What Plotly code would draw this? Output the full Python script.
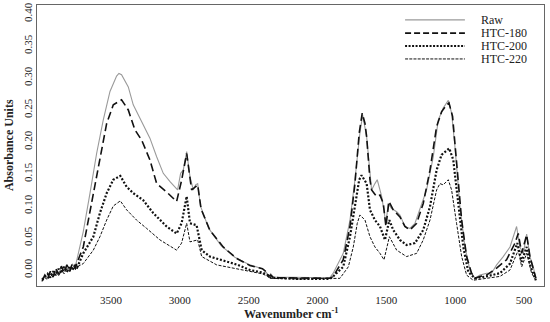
import plotly.graph_objects as go

# (wavenumber cm-1, absorbance)
raw = [(4000,-0.016),(3980,-0.010),(3960,-0.013),(3940,-0.004),(3920,-0.009),(3900,0.001),(3880,-0.006),
       (3860,0.004),(3840,-0.002),(3820,0.007),(3800,0.000),(3780,0.009),(3760,0.004),(3745,0.018),
       (3701,0.060),(3652,0.120),(3604,0.182),(3556,0.234),(3507,0.279),(3459,0.303),(3442,0.307),
       (3423,0.305),(3374,0.286),(3338,0.258),(3301,0.242),(3265,0.227),(3217,0.206),(3168,0.177),
       (3120,0.151),(3071,0.138),(3035,0.130),(3016,0.125),(2994,0.151),(2975,0.156),(2950,0.185),
       (2926,0.146),(2902,0.125),(2885,0.133),(2870,0.135),(2850,0.100),(2790,0.065),(2700,0.038),
       (2600,0.020),(2491,0.008),(2400,0.002),(2370,-0.004),(2355,-0.012),(2340,-0.006),(2320,-0.011),
       (2200,-0.011),(2127,-0.012),(1910,-0.012),(1886,-0.005),(1813,0.026),(1764,0.078),(1728,0.141),
       (1692,0.214),(1672,0.242),(1643,0.208),(1619,0.146),(1607,0.125),(1583,0.135),(1566,0.141),
       (1534,0.115),(1503,0.073),(1486,0.104),(1462,0.096),(1425,0.091),(1401,0.086),(1365,0.068),
       (1329,0.065),(1292,0.073),(1256,0.094),(1208,0.125),(1159,0.177),(1123,0.234),(1087,0.253),
       (1050,0.265),(1026,0.245),(1002,0.193),(965,0.099),(929,0.036),(893,0.000),(857,-0.013),
       (820,-0.008),(772,-0.005),(736,-0.005),(699,0.008),(651,0.021),(602,0.036),(554,0.068),
       (530,0.036),(505,0.026),(481,0.056),(457,0.021),(433,0.005),(414,-0.013)]

htc180 = [(4000,-0.017),(3980,-0.008),(3960,-0.014),(3940,-0.002),(3920,-0.011),(3900,0.003),(3880,-0.007),
          (3860,0.006),(3840,-0.004),(3820,0.008),(3800,-0.002),(3780,0.010),(3760,0.002),(3745,0.012),
          (3701,0.036),(3628,0.120),(3580,0.177),(3531,0.229),(3483,0.258),(3423,0.266),(3374,0.250),
          (3326,0.219),(3277,0.203),(3217,0.172),(3168,0.135),(3096,0.122),(3023,0.107),(2987,0.140),
          (2950,0.182),(2914,0.125),(2870,0.133),(2845,0.095),(2781,0.062),(2685,0.036),(2587,0.018),
          (2491,0.007),(2400,0.002),(2370,-0.003),(2355,-0.010),(2340,-0.008),(2320,-0.012),(2127,-0.013),
          (1910,-0.013),(1886,-0.010),(1813,0.016),(1764,0.068),(1728,0.135),(1697,0.214),(1675,0.245),
          (1655,0.229),(1643,0.208),(1619,0.141),(1607,0.125),(1571,0.115),(1546,0.117),(1522,0.104),
          (1503,0.068),(1481,0.107),(1450,0.094),(1401,0.083),(1365,0.068),(1329,0.0625),(1280,0.073),
          (1232,0.104),(1183,0.156),(1135,0.224),(1099,0.247),(1062,0.258),(1045,0.261),(1019,0.240),
          (990,0.167),(953,0.078),(917,0.021),(881,-0.005),(857,-0.013),(820,-0.010),(772,-0.008),
          (699,0.003),(627,0.016),(566,0.042),(542,0.057),(517,0.026),(481,0.055),(457,0.021),(414,-0.013)]

htc200 = [(4000,-0.015),(3980,-0.011),(3960,-0.006),(3940,-0.012),(3920,-0.002),(3900,-0.008),(3880,0.002),
          (3860,-0.005),(3840,0.005),(3820,-0.003),(3800,0.006),(3780,0.000),(3760,0.007),(3745,0.004),
          (3701,0.026),(3628,0.052),(3580,0.089),(3531,0.120),(3483,0.141),(3432,0.147),(3386,0.130),
          (3338,0.120),(3265,0.109),(3193,0.089),(3096,0.068),(3023,0.057),(2987,0.073),(2950,0.115),
          (2926,0.073),(2878,0.070),(2841,0.031),(2781,0.021),(2579,0.008),(2491,0.000),(2400,-0.004),
          (2360,-0.008),(2340,-0.012),(2127,-0.014),(1910,-0.014),(1886,-0.010),(1813,0.005),(1764,0.052),
          (1728,0.099),(1697,0.141),(1680,0.148),(1643,0.135),(1619,0.094),(1583,0.078),(1546,0.068),
          (1510,0.047),(1478,0.078),(1450,0.0625),(1401,0.047),(1353,0.039),(1292,0.042),(1232,0.0625),
          (1183,0.099),(1135,0.156),(1099,0.180),(1062,0.1875),(1043,0.190),(1014,0.172),(977,0.099),
          (941,0.036),(905,-0.003),(857,-0.013),(772,-0.010),(675,-0.005),(602,0.010),(549,0.042),
          (517,0.013),(481,0.036),(452,0.005),(414,-0.016)]

htc220 = [(4000,-0.018),(3980,-0.012),(3960,-0.015),(3940,-0.007),(3920,-0.011),(3900,-0.004),(3880,-0.009),
          (3860,0.000),(3840,-0.006),(3820,0.003),(3800,-0.003),(3780,0.004),(3760,0.000),(3745,0.005),
          (3701,0.010),(3628,0.031),(3580,0.052),(3531,0.078),(3483,0.100),(3432,0.108),(3386,0.094),
          (3314,0.078),(3241,0.065),(3144,0.047),(3023,0.031),(2987,0.042),(2950,0.073),(2926,0.044),
          (2870,0.047),(2841,0.021),(2732,0.008),(2491,-0.003),(2400,-0.006),(2360,-0.010),(2340,-0.013),
          (2127,-0.014),(1910,-0.014),(1837,-0.013),(1776,0.005),(1740,0.036),(1711,0.073),(1692,0.086),
          (1655,0.078),(1619,0.052),(1583,0.036),(1546,0.026),(1517,0.016),(1493,0.036),(1478,0.052),
          (1425,0.031),(1353,0.021),(1280,0.026),(1232,0.047),(1183,0.078),(1135,0.125),(1111,0.135),
          (1087,0.133),(1050,0.141),(1026,0.125),(990,0.073),(953,0.021),(917,-0.008),(869,-0.016),
          (772,-0.013),(675,-0.010),(602,0.000),(542,0.031),(517,0.005),(481,0.026),(445,-0.005),(414,-0.016)]

series_names = ["Raw", "HTC-180", "HTC-200", "HTC-220"]
x_ticks = [3500, 3000, 2500, 2000, 1500, 1000, 500]
y_ticks = [0.00, 0.05, 0.10, 0.15, 0.20, 0.25, 0.30, 0.35, 0.40]

styles = [
    dict(color="#9a9a9a", width=1.1, dash="solid"),
    dict(color="#111111", width=1.6, dash="8px,4px"),
    dict(color="#111111", width=2.2, dash="2px,1.8px"),
    dict(color="#111111", width=1.0, dash="3px,1.5px"),
]
legend_styles = [
    dict(color="#9a9a9a", width=1.1, dash="solid"),
    dict(color="#111111", width=1.6, dash="6px,3px"),
    dict(color="#111111", width=2.0, dash="2px,1.5px"),
    dict(color="#111111", width=1.0, dash="3px,1.2px"),
]

FONT = "Liberation Serif"

fig = go.Figure()
for name, data, st in zip(series_names, [raw, htc180, htc200, htc220], styles):
    fig.add_trace(go.Scatter(
        x=[p[0] for p in data], y=[p[1] for p in data],
        mode="lines", name=name, line=st, showlegend=False,
    ))

# hand-drawn legend in the top-right corner of the plot (paper coordinates)
leg_rows = [0.947, 0.900, 0.854, 0.808]
for name, st, yy in zip(series_names, legend_styles, leg_rows):
    fig.add_shape(type="line", xref="paper", yref="paper",
                  x0=0.726, x1=0.844, y0=yy, y1=yy, line=st)
    fig.add_annotation(xref="paper", yref="paper", x=0.872, y=yy, text=name,
                       showarrow=False, xanchor="left", yanchor="middle",
                       font=dict(family=FONT, size=12, color="#222"))

# axis titles
fig.add_annotation(xref="paper", yref="paper", x=0.5, y=-0.0996,
                   text="<b>Wavenumber cm<sup>-1</sup></b>", showarrow=False,
                   xanchor="center", yanchor="middle",
                   font=dict(family=FONT, size=12, color="#222"))
fig.add_annotation(xref="paper", yref="paper", x=-0.056, y=0.5,
                   text="<b>Absorbance Units</b>", showarrow=False, textangle=-90,
                   xanchor="center", yanchor="middle",
                   font=dict(family=FONT, size=12, color="#222"))

fig.update_layout(
    width=550, height=322,
    margin=dict(l=37, r=6, t=5, b=36),
    paper_bgcolor="white", plot_bgcolor="white",
    font=dict(family=FONT, size=11, color="#222"),
    showlegend=False,
    xaxis=dict(range=[4037, 355], tickvals=x_ticks, ticktext=[str(v) for v in x_ticks],
               ticklabelstandoff=4,
               showgrid=False, zeroline=False, showline=True, mirror=True,
               linecolor="#666", linewidth=1, ticks="",
               tickfont=dict(family=FONT, size=11, color="#222"),
               automargin=False),
    yaxis=dict(range=[-0.025, 0.414], tickvals=y_ticks, ticktext=[f"{v:.2f}" for v in y_ticks],
               tickangle=-90, ticklabelstandoff=0,
               showgrid=False, zeroline=False, showline=True, mirror=True,
               linecolor="#666", linewidth=1, ticks="",
               tickfont=dict(family=FONT, size=11, color="#222"),
               automargin=False),
)

fig.write_html("out.html", config={"displayModeBar": False},
               post_script="document.body.style.margin='0px';document.body.style.padding='0px';")
